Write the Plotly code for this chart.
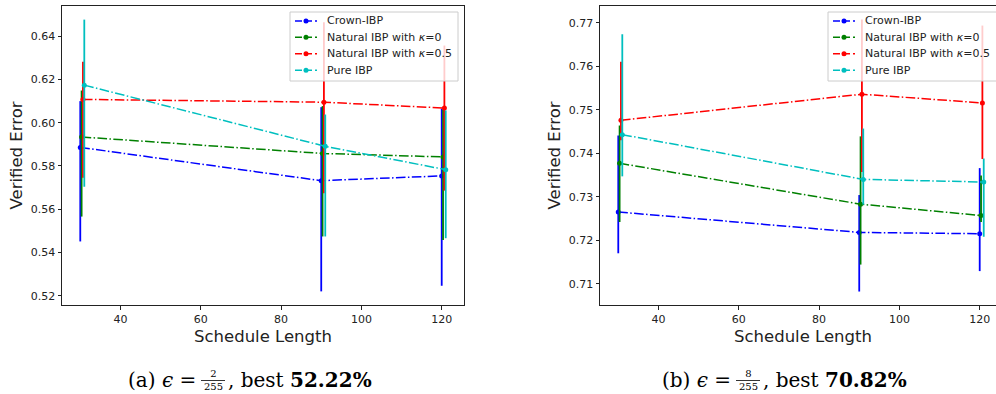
import plotly.graph_objects as go

# ---------------- data ----------------
schedule = [30, 90, 120]
series_names = ["Crown-IBP", "Natural IBP with <i>κ</i>=0", "Natural IBP with <i>κ</i>=0.5", "Pure IBP"]
series_colors = ["#0000ff", "#008000", "#ff0000", "#00bfbf"]

# panel (a): eps = 2/255
crown_a = [0.5886, 0.5732, 0.5754]
crown_a_hi = [0.6100, 0.6072, 0.6065]
crown_a_lo = [0.5451, 0.5220, 0.5246]
nat0_a = [0.5934, 0.5858, 0.5842]
nat0_a_hi = [0.6149, 0.6077, 0.6061]
nat0_a_lo = [0.5566, 0.5474, 0.5458]
nat05_a = [0.6108, 0.6095, 0.6068]
nat05_a_hi = [0.6282, 0.6465, 0.6357]
nat05_a_lo = [0.5746, 0.5674, 0.5686]
pure_a = [0.6174, 0.5891, 0.5783]
pure_a_hi = [0.6477, 0.6038, 0.6057]
pure_a_lo = [0.5704, 0.5474, 0.5466]

# panel (b): eps = 8/255
crown_b = [0.7265, 0.7218, 0.7215]
crown_b_hi = [0.7441, 0.7304, 0.7366]
crown_b_lo = [0.7170, 0.7082, 0.7129]
nat0_b = [0.7377, 0.7283, 0.7257]
nat0_b_hi = [0.7464, 0.7439, 0.7349]
nat0_b_lo = [0.7242, 0.7144, 0.7242]
nat05_b = [0.7476, 0.7536, 0.7516]
nat05_b_hi = [0.7611, 0.7708, 0.7694]
nat05_b_lo = [0.7430, 0.7357, 0.7387]
pure_b = [0.7443, 0.7340, 0.7334]
pure_b_hi = [0.7674, 0.7457, 0.7388]
pure_b_lo = [0.7347, 0.7282, 0.7208]

x_ticks = [40, 60, 80, 100, 120]
x_title = "Schedule Length"
y_title = "Verified Error"

# ---------------- figure ----------------
W, H = 996, 394
FONT = "DejaVu Sans"
INK = "#222222"
fig = go.Figure()

panels = [
    ("x", "y", [(crown_a, crown_a_hi, crown_a_lo), (nat0_a, nat0_a_hi, nat0_a_lo),
                (nat05_a, nat05_a_hi, nat05_a_lo), (pure_a, pure_a_hi, pure_a_lo)]),
    ("x2", "y2", [(crown_b, crown_b_hi, crown_b_lo), (nat0_b, nat0_b_hi, nat0_b_lo),
                  (nat05_b, nat05_b_hi, nat05_b_lo), (pure_b, pure_b_hi, pure_b_lo)]),
]
jitter = [0.0, 1 / 3, 2 / 3, 1.0]

for xa, ya, series in panels:
    for i, (vals, hi, lo) in enumerate(series):
        xs = [s + jitter[i] for s in schedule]
        fig.add_trace(go.Scatter(
            x=xs, y=vals, xaxis=xa, yaxis=ya, mode="lines+markers",
            line=dict(color=series_colors[i], width=1.5, dash="9.6px,2.4px,1.5px,2.4px"),
            marker=dict(color=series_colors[i], size=5),
            error_y=dict(type="data", symmetric=False,
                         array=[h - v for h, v in zip(hi, vals)],
                         arrayminus=[v - l for v, l in zip(vals, lo)],
                         color=series_colors[i], thickness=1.8, width=0),
            showlegend=False, name=series_names[i],
        ))


def px_x(p):
    return p / W


def px_y(p):
    return (H - p) / H


axis_common = dict(showgrid=False, zeroline=False, showline=True, linecolor=INK, linewidth=1,
                   ticks="outside", ticklen=3.5, tickwidth=1, tickcolor=INK,
                   tickfont=dict(family=FONT, size=11, color=INK))

yd = [px_y(305), px_y(6)]
fig.update_layout(
    width=W, height=H, margin=dict(l=0, r=0, t=0, b=0),
    paper_bgcolor="white", plot_bgcolor="white", showlegend=False,
    font=dict(family=FONT, color=INK),
    xaxis=dict(domain=[px_x(62), px_x(464)], range=[25.45, 125.55], tickvals=x_ticks,
               mirror=True, anchor="y", **axis_common),
    yaxis=dict(domain=yd, range=[0.5157, 0.6540], dtick=0.02, tickformat=".2f",
               mirror=True, anchor="x", **axis_common),
    xaxis2=dict(domain=[px_x(600), 1.0], range=[25.45, 25.45 + 396 / 4.016], tickvals=x_ticks,
                mirror=True, anchor="y2", **axis_common),
    yaxis2=dict(domain=yd, range=[0.7051, 0.7739], dtick=0.01, tickformat=".2f",
                mirror=False, anchor="x2", **axis_common),
)

ann = []
shapes = []

# ---- legends (drawn as boxes, sample lines, markers and labels) ----
legend_boxes = [(290, 458), (828, 1010)]
rows_y = [21, 37.3, 53.7, 70.3]
for bx0, bx1 in legend_boxes:
    shapes.append(dict(type="rect", xref="paper", yref="paper", layer="above",
                       x0=px_x(bx0), x1=px_x(bx1), y0=px_y(81), y1=px_y(12),
                       fillcolor="rgba(255,255,255,0.8)", line=dict(color="#cccccc", width=1)))
    for i, ry in enumerate(rows_y):
        shapes.append(dict(type="line", xref="paper", yref="paper", layer="above",
                           x0=px_x(bx0 + 5), x1=px_x(bx0 + 27), y0=px_y(ry), y1=px_y(ry),
                           line=dict(color=series_colors[i], width=1.5, dash="7px,3px")))
        cx = bx0 + 16
        shapes.append(dict(type="circle", xref="paper", yref="paper", layer="above",
                           x0=px_x(cx - 2.5), x1=px_x(cx + 2.5), y0=px_y(ry + 2.5), y1=px_y(ry - 2.5),
                           fillcolor=series_colors[i], line=dict(color=series_colors[i], width=0)))
        ann.append(dict(x=px_x(bx0 + 35), y=px_y(ry), xref="paper", yref="paper",
                        text=series_names[i], showarrow=False, xanchor="left", yanchor="middle",
                        font=dict(family=FONT, size=11, color=INK)))

# ---- axis titles ----
for xc in (16, 554):
    ann.append(dict(x=px_x(xc), y=px_y(155.5), xref="paper", yref="paper", text=y_title,
                    textangle=-90, showarrow=False, xanchor="center", yanchor="middle",
                    font=dict(family=FONT, size=16.5, color=INK)))
for xc in (263, 803):
    ann.append(dict(x=px_x(xc), y=px_y(336), xref="paper", yref="paper", text=x_title,
                    showarrow=False, xanchor="center", yanchor="middle",
                    font=dict(family=FONT, size=16.5, color=INK)))

# ---- captions ----
SERIF = "DejaVu Serif"
captions = [("(a)", "2", "52.22%", 198, 213, 226), ("(b)", "8", "70.82%", 733, 748, 761)]
for lab, num, best, eq_right, frac_c, rest_left in captions:
    ann.append(dict(x=px_x(eq_right), y=px_y(380), xref="paper", yref="paper",
                    text=f"{lab} <i>ϵ</i> =", showarrow=False, xanchor="right", yanchor="middle",
                    font=dict(family=SERIF, size=20, color="black")))
    ann.append(dict(x=px_x(frac_c), y=px_y(380), xref="paper", yref="paper",
                    text=f"{num}<br>255", showarrow=False, xanchor="center", yanchor="middle",
                    align="center", borderpad=0, font=dict(family=SERIF, size=10, color="black")))
    ann.append(dict(x=px_x(rest_left), y=px_y(380), xref="paper", yref="paper",
                    text=f", best <b>{best}</b>", showarrow=False, xanchor="left", yanchor="middle",
                    font=dict(family=SERIF, size=20, color="black")))
    shapes.append(dict(type="line", xref="paper", yref="paper",
                       x0=px_x(frac_c - 12), x1=px_x(frac_c + 12), y0=px_y(380.5), y1=px_y(380.5),
                       line=dict(color="black", width=0.8)))

fig.update_layout(annotations=ann, shapes=shapes)
fig.write_html("out.html", config={"displayModeBar": False},
               post_script="document.body.style.margin='0';")
